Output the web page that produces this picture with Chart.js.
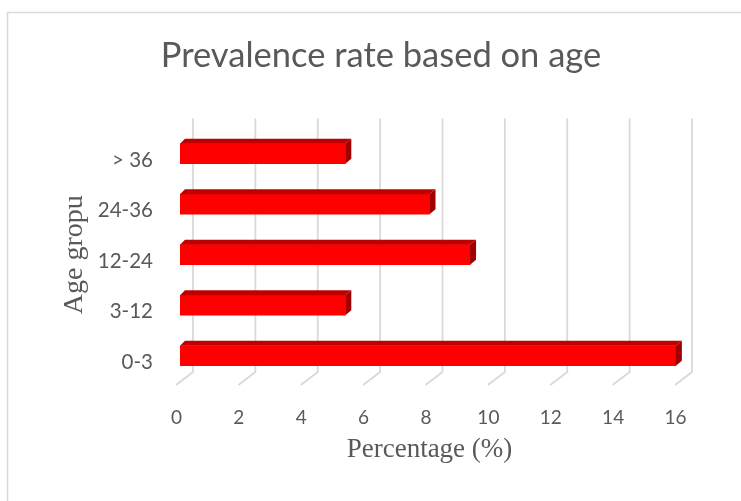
<!DOCTYPE html>
<html>
<head>
<meta charset="utf-8">
<script src="https://cdn.jsdelivr.net/npm/chart.js@4/dist/chart.umd.min.js"></script>
<style>
  html, body { margin: 0; padding: 0; background: #ffffff; }
  #wrap { width: 741px; height: 501px; }
</style>
</head>
<body>
<div id="wrap"><canvas id="c" width="741" height="501"></canvas></div>
<script>
// Age groups (bottom to top) and prevalence rate in percent
const ageGroups = ['0-3', '3-12', '12-24', '24-36', '> 36'];
const prevalence = [15.9, 5.3, 9.3, 8.0, 5.3];
const percentTicks = [0, 2, 4, 6, 8, 10, 12, 14, 16];

const TEXT = '#595959';
const GRID = '#d9d9d9';

// Pseudo-3D frame: back wall grid lines and floor ticks around the bar plane
const wallPlugin = {
  id: 'wall',
  beforeDraw(chart) {
    const ctx = chart.ctx;
    ctx.save();
    ctx.fillStyle = '#ffffff';
    ctx.fillRect(0, 0, chart.width, chart.height);
    ctx.strokeStyle = GRID;
    ctx.lineWidth = 1.5;
    ctx.strokeRect(7.5, 12.5, chart.width + 20, chart.height + 20);
    ctx.restore();
  },
  beforeDatasetsDraw(chart) {
    const ctx = chart.ctx;
    const xs = chart.scales.x;
    const area = chart.chartArea;
    const wallTop = area.top - 10;
    const wallBottom = area.bottom - 9;
    const floorFront = area.bottom + 4;
    ctx.save();
    ctx.strokeStyle = GRID;
    ctx.lineWidth = 1.8;
    for (const t of xs.ticks) {
      const p = xs.getPixelForValue(t.value);
      ctx.beginPath();
      ctx.moveTo(p - 4, floorFront);
      ctx.lineTo(p + 13, wallBottom);
      ctx.lineTo(p + 13, wallTop);
      ctx.stroke();
    }
    ctx.restore();
  },
  afterDatasetsDraw(chart) {
    const ctx = chart.ctx;
    const meta = chart.getDatasetMeta(0);
    const dx = 6, dy = 5;
    ctx.save();
    for (const bar of meta.data) {
      const { x, y, base, height } = bar.getProps(['x', 'y', 'base', 'height'], true);
      const top = y - height / 2;
      const bottom = y + height / 2;
      // top face
      ctx.fillStyle = '#c00000';
      ctx.beginPath();
      ctx.moveTo(base, top);
      ctx.lineTo(base + dx - 1, top - dy);
      ctx.lineTo(x + dx, top - dy);
      ctx.lineTo(x, top);
      ctx.closePath();
      ctx.fill();
      // end face
      ctx.fillStyle = '#a00000';
      ctx.beginPath();
      ctx.moveTo(x, top);
      ctx.lineTo(x + dx, top - dy);
      ctx.lineTo(x + dx, bottom - dy);
      ctx.lineTo(x, bottom);
      ctx.closePath();
      ctx.fill();
    }
    ctx.restore();
  }
};

new Chart(document.getElementById('c'), {
  type: 'bar',
  data: {
    labels: ageGroups,
    datasets: [{
      data: prevalence,
      backgroundColor: '#ff0000',
      borderWidth: 0,
      barThickness: 20
    }]
  },
  plugins: [wallPlugin],
  options: {
    indexAxis: 'y',
    responsive: false,
    animation: false,
    devicePixelRatio: 1,
    layout: { padding: { left: 83, right: 62, top: 0, bottom: 0 } },
    plugins: {
      legend: { display: false },
      tooltip: { enabled: false },
      title: {
        display: true,
        text: 'Prevalence rate based on age',
        color: TEXT,
        font: { family: 'Lato', size: 34.5, weight: '400' },
        padding: { top: 35, bottom: 52 }
      }
    },
    scales: {
      x: {
        type: 'linear',
        min: 0,
        max: 16,
        afterBuildTicks(scale) { scale.ticks = percentTicks.map(v => ({ value: v })); },
        afterFit(scale) { scale.height = 120; },
        grid: { display: false, drawTicks: false },
        border: { display: false },
        ticks: {
          color: TEXT,
          font: { family: 'Lato', size: 19 },
          padding: 25,
          labelOffset: -3.5,
          maxRotation: 0
        },
        title: {
          display: true,
          text: 'Percentage (%)',
          color: TEXT,
          font: { family: 'Liberation Serif', size: 27 },
          padding: { top: 0, bottom: 35 }
        }
      },
      y: {
        reverse: true,
        afterFit(scale) { scale.width = 97; },
        grid: { display: false, drawTicks: false },
        border: { display: false },
        ticks: {
          color: TEXT,
          font: { family: 'Lato', size: 20.5 },
          padding: 27,
          labelOffset: 6.5
        },
        title: {
          display: true,
          text: 'Age gropu',
          color: TEXT,
          font: { family: 'Liberation Serif', size: 28 },
          padding: { top: -25, bottom: 0 }
        }
      }
    }
  }
});
</script>
</body>
</html>
